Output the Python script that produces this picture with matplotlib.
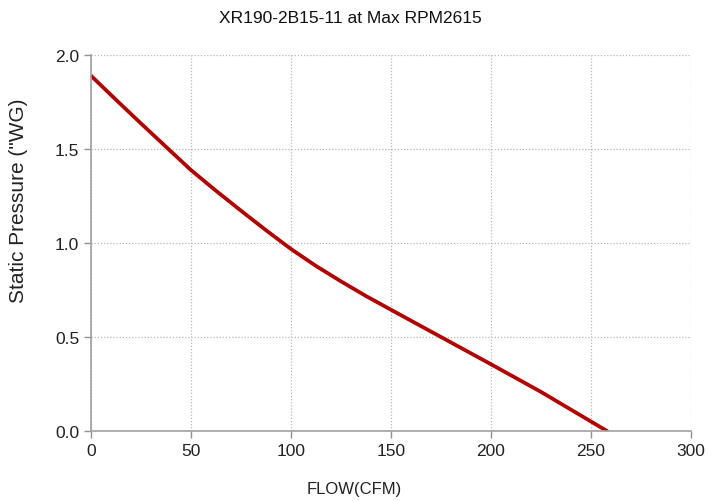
import matplotlib
matplotlib.use("Agg")
import matplotlib.pyplot as plt

flow = [0, 12.5, 25, 38.5, 50, 62.5, 75, 87.5, 100, 112.5, 125, 137.5, 150, 175, 200, 225, 258]
pressure = [1.89, 1.762, 1.636, 1.502, 1.388, 1.278, 1.172, 1.068, 0.968, 0.878, 0.796, 0.718, 0.645, 0.50, 0.355, 0.208, 0.0]
x_ticks = [0, 50, 100, 150, 200, 250, 300]
y_ticks = [0.0, 0.5, 1.0, 1.5, 2.0]
y_tick_labels = ["0.0", "0.5", "1.0", "1.5", "2.0"]
title = "XR190-2B15-11 at Max RPM2615"
xlabel = "FLOW(CFM)"
ylabel = 'Static Pressure ("WG)'

plt.rcParams['font.family'] = ['Liberation Sans', 'DejaVu Sans']

fig = plt.figure(figsize=(7.13, 5.02), dpi=100)
ax = fig.add_axes([0.1276, 0.1394, 0.8416, 0.749])
ax.plot(flow, pressure, color="#b30000", linewidth=2.7, solid_capstyle="round", solid_joinstyle="round")
ax.set_xlim(0, 300)
ax.set_ylim(0, 2.0)
ax.set_xticks(x_ticks)
ax.set_yticks(y_ticks)
ax.set_yticklabels(y_tick_labels)
ax.grid(True, linestyle=(0, (1, 1.5)), color="#b8b8b8", linewidth=0.9)
for s in ["top", "right"]:
    ax.spines[s].set_visible(False)
for s in ["left", "bottom"]:
    ax.spines[s].set_color("#a0a0a0")
    ax.spines[s].set_linewidth(1.2)
ax.tick_params(axis="both", colors="#909090", labelcolor="#222222", labelsize=12.5, length=5, width=1)
ax.set_axisbelow(True)
fig.text(0.491, 0.964, title, ha="center", va="center", fontsize=12.5, color="#111111")
fig.text(0.4965, 0.024, xlabel, ha="center", va="center", fontsize=12, color="#222222")
fig.text(0.026, 0.60, ylabel, ha="center", va="center", rotation=90, fontsize=15, color="#222222")
fig.savefig("out.png", dpi=100)
